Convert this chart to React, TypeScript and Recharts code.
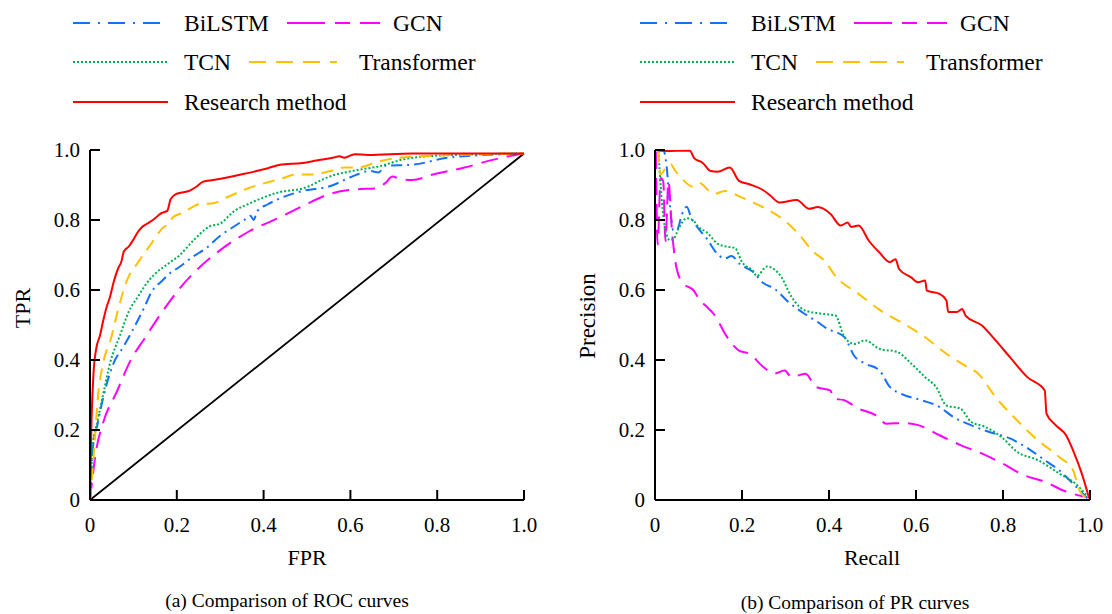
import { LineChart, Line, XAxis, YAxis } from 'recharts';

const FONT = '"Liberation Serif", "Times New Roman", serif';

const axisTicks = [0, 0.2, 0.4, 0.6, 0.8, 1.0];

type Pt = [number, number];

// ROC curves: [FPR, TPR]
const rocBiLSTM: Pt[] = [
  [0, 0], [0.006, 0.14], [0.018, 0.22], [0.03, 0.29], [0.054, 0.39], [0.078, 0.44], [0.096, 0.48],
  [0.125, 0.55], [0.142, 0.595], [0.165, 0.625], [0.184, 0.648], [0.205, 0.665], [0.237, 0.695],
  [0.268, 0.72], [0.3, 0.755], [0.33, 0.78], [0.355, 0.8], [0.37, 0.812], [0.377, 0.8], [0.385, 0.825],
  [0.41, 0.845], [0.438, 0.862], [0.49, 0.883], [0.554, 0.897], [0.6, 0.922], [0.645, 0.94],
  [0.665, 0.936], [0.68, 0.955], [0.743, 0.958], [0.824, 0.978], [1, 0.99],
];
const rocGCN: Pt[] = [
  [0, 0], [0.014, 0.14], [0.03, 0.22], [0.062, 0.31], [0.094, 0.4], [0.125, 0.46], [0.165, 0.535],
  [0.207, 0.605], [0.244, 0.655], [0.3, 0.714], [0.363, 0.765], [0.438, 0.808], [0.49, 0.84],
  [0.554, 0.875], [0.617, 0.888], [0.657, 0.89], [0.68, 0.905], [0.697, 0.924], [0.713, 0.918],
  [0.743, 0.914], [0.79, 0.93], [0.863, 0.95], [0.935, 0.974], [1, 0.99],
];
const rocTCN: Pt[] = [
  [0, 0], [0.006, 0.15], [0.018, 0.23], [0.03, 0.3], [0.046, 0.39], [0.069, 0.47], [0.09, 0.54],
  [0.11, 0.58], [0.131, 0.62], [0.149, 0.645], [0.18, 0.675], [0.207, 0.7], [0.237, 0.74],
  [0.276, 0.782], [0.3, 0.79], [0.332, 0.825], [0.369, 0.848], [0.438, 0.88], [0.49, 0.89],
  [0.554, 0.925], [0.617, 0.943], [0.665, 0.953], [0.729, 0.975], [0.824, 0.985], [1, 0.99],
];
const rocTransformer: Pt[] = [
  [0, 0], [0.01, 0.15], [0.018, 0.29], [0.03, 0.39], [0.048, 0.46], [0.066, 0.55], [0.086, 0.63],
  [0.11, 0.678], [0.14, 0.73], [0.17, 0.78], [0.184, 0.79], [0.19, 0.807], [0.213, 0.82],
  [0.252, 0.845], [0.284, 0.848], [0.316, 0.865], [0.363, 0.89], [0.438, 0.917], [0.475, 0.93],
  [0.514, 0.93], [0.554, 0.94], [0.586, 0.95], [0.617, 0.95], [0.665, 0.967], [0.713, 0.978],
  [0.824, 0.985], [1, 0.99],
];
const rocResearch: Pt[] = [
  [0, 0], [0.003, 0.2], [0.008, 0.36], [0.014, 0.43], [0.023, 0.47], [0.03, 0.51], [0.038, 0.55],
  [0.046, 0.58], [0.054, 0.62], [0.066, 0.665], [0.072, 0.68], [0.078, 0.71], [0.09, 0.725],
  [0.098, 0.74], [0.11, 0.765], [0.12, 0.78], [0.135, 0.792], [0.145, 0.8], [0.165, 0.82],
  [0.178, 0.826], [0.186, 0.86], [0.2, 0.875], [0.23, 0.884], [0.245, 0.895], [0.26, 0.909],
  [0.284, 0.914], [0.348, 0.93], [0.41, 0.948], [0.438, 0.958], [0.49, 0.963], [0.522, 0.97],
  [0.56, 0.978], [0.575, 0.982], [0.586, 0.978], [0.61, 0.988], [0.64, 0.986], [0.743, 0.99],
  [1, 0.99],
];
const rocRandom: Pt[] = [[0, 0], [1, 0.99]];

// PR curves: [Recall, Precision]
const prBiLSTM: Pt[] = [
  [0.005, 1.0], [0.019, 1.0], [0.027, 0.95], [0.033, 0.86], [0.042, 0.771], [0.05, 0.77],
  [0.062, 0.817], [0.073, 0.838], [0.083, 0.807], [0.103, 0.771], [0.12, 0.745], [0.142, 0.705],
  [0.16, 0.69], [0.176, 0.697], [0.195, 0.674], [0.225, 0.652], [0.249, 0.62], [0.273, 0.605],
  [0.31, 0.562], [0.34, 0.535], [0.372, 0.51], [0.395, 0.49], [0.435, 0.466], [0.459, 0.41],
  [0.483, 0.39], [0.516, 0.37], [0.54, 0.323], [0.565, 0.304], [0.613, 0.285], [0.654, 0.266],
  [0.686, 0.237], [0.718, 0.218], [0.767, 0.195], [0.816, 0.176], [0.864, 0.142], [0.896, 0.114],
  [0.929, 0.085], [0.961, 0.047], [0.994, 0.005],
];
const prGCN: Pt[] = [
  [0.002, 0.995], [0.006, 0.73], [0.013, 0.92], [0.019, 0.91], [0.024, 0.74], [0.031, 0.91],
  [0.039, 0.77], [0.05, 0.66], [0.065, 0.619], [0.088, 0.6], [0.104, 0.57], [0.119, 0.552],
  [0.136, 0.53], [0.165, 0.467], [0.193, 0.427], [0.217, 0.418], [0.249, 0.38], [0.273, 0.361],
  [0.298, 0.37], [0.314, 0.351], [0.346, 0.361], [0.37, 0.323], [0.403, 0.313], [0.411, 0.29],
  [0.435, 0.285], [0.468, 0.261], [0.508, 0.242], [0.532, 0.218], [0.573, 0.22], [0.605, 0.214],
  [0.654, 0.185], [0.702, 0.157], [0.751, 0.133], [0.799, 0.104], [0.848, 0.071], [0.896, 0.052],
  [0.945, 0.024], [0.985, 0.01],
];
const prTCN: Pt[] = [
  [0.008, 0.997], [0.015, 0.864], [0.024, 0.77], [0.034, 0.743], [0.042, 0.745], [0.056, 0.78],
  [0.073, 0.805], [0.087, 0.8], [0.1, 0.78], [0.119, 0.765], [0.144, 0.732], [0.165, 0.724],
  [0.184, 0.72], [0.2, 0.68], [0.225, 0.655], [0.234, 0.64], [0.257, 0.667], [0.29, 0.638],
  [0.314, 0.58], [0.346, 0.541], [0.379, 0.533], [0.415, 0.527], [0.435, 0.466], [0.459, 0.446],
  [0.483, 0.456], [0.516, 0.432], [0.557, 0.423], [0.589, 0.39], [0.621, 0.351], [0.646, 0.323],
  [0.67, 0.27], [0.702, 0.261], [0.727, 0.223], [0.759, 0.209], [0.8, 0.176], [0.832, 0.138],
  [0.88, 0.114], [0.929, 0.076], [0.97, 0.043], [0.994, 0.01],
];
const prTransformer: Pt[] = [
  [0.008, 1.0], [0.012, 0.93], [0.023, 0.945], [0.035, 0.96], [0.047, 0.94], [0.065, 0.914],
  [0.087, 0.895], [0.104, 0.905], [0.12, 0.888], [0.136, 0.874], [0.16, 0.883], [0.2, 0.864],
  [0.249, 0.836], [0.298, 0.798], [0.33, 0.76], [0.362, 0.712], [0.395, 0.676], [0.411, 0.646],
  [0.468, 0.589], [0.524, 0.537], [0.573, 0.503], [0.621, 0.465], [0.67, 0.418], [0.718, 0.38],
  [0.743, 0.361], [0.783, 0.294], [0.832, 0.228], [0.88, 0.171], [0.929, 0.123], [0.961, 0.085],
  [0.977, 0.024], [0.994, 0.005],
];
const prResearch: Pt[] = [
  [0.002, 1.0], [0.023, 0.997], [0.08, 0.998], [0.09, 0.977], [0.11, 0.963], [0.128, 0.94],
  [0.144, 0.938], [0.172, 0.95], [0.193, 0.912], [0.217, 0.902], [0.249, 0.885], [0.265, 0.87],
  [0.286, 0.85], [0.326, 0.857], [0.354, 0.832], [0.374, 0.837], [0.403, 0.818], [0.427, 0.784],
  [0.443, 0.793], [0.451, 0.78], [0.468, 0.784], [0.492, 0.74], [0.516, 0.707], [0.54, 0.68],
  [0.553, 0.688], [0.561, 0.66], [0.589, 0.636], [0.605, 0.622], [0.621, 0.627], [0.625, 0.598],
  [0.654, 0.589], [0.67, 0.57], [0.674, 0.537], [0.694, 0.537], [0.706, 0.546], [0.714, 0.527],
  [0.751, 0.499], [0.783, 0.456], [0.816, 0.408], [0.856, 0.351], [0.896, 0.313], [0.9, 0.247],
  [0.921, 0.214], [0.945, 0.185], [0.961, 0.142], [0.981, 0.076], [0.998, 0.005],
];

interface Series {
  name: string;
  color: string;
  dash?: string;
  legendDash?: string;
  roc: Pt[];
  pr: Pt[];
}

const series: Series[] = [
  { name: 'BiLSTM', color: '#1470ff', dash: '11 5 2 5', legendDash: '17 8 2 8', roc: rocBiLSTM, pr: prBiLSTM },
  { name: 'GCN', color: '#ff00ff', dash: '17 9', legendDash: '38 10 15 10 20 10', roc: rocGCN, pr: prGCN },
  { name: 'TCN', color: '#00b050', dash: '2 2', legendDash: '2 2', roc: rocTCN, pr: prTCN },
  { name: 'Transformer', color: '#ffc000', dash: '12 8', legendDash: '17 10', roc: rocTransformer, pr: prTransformer },
  { name: 'Research method', color: '#ff0000', roc: rocResearch, pr: prResearch },
];

const toRows = (pts: Pt[]) => pts.map(([x, y]) => ({ x, y }));
const fmt = (v: number) => (v === 0 ? '0' : v.toFixed(1));

function YTick(props: any) {
  const { x, y, payload } = props;
  return (
    <g>
      <line x1={x + 10} x2={x + 20} y1={y} y2={y} stroke="#000" strokeWidth={2} />
      <text x={x} y={y} dy="0.35em" textAnchor="end" fontFamily={FONT} fontSize={21} fill="#000">
        {fmt(payload.value)}
      </text>
    </g>
  );
}

function XTick(props: any) {
  const { x, y, payload } = props;
  return (
    <g>
      {payload.value > 0 && (
        <line x1={x} x2={x} y1={y - 10} y2={y - 20} stroke="#000" strokeWidth={2} />
      )}
      <text x={x} y={y + 22} textAnchor="middle" fontFamily={FONT} fontSize={21} fill="#000">
        {fmt(payload.value)}
      </text>
    </g>
  );
}

function Panel({ kind, left, width, marginRight }: { kind: 'roc' | 'pr'; left: number; width: number; marginRight: number }) {
  return (
    <div style={{ position: 'absolute', left, top: 0 }}>
      <LineChart width={width} height={614} margin={{ top: 150, right: marginRight, bottom: 113, left: 89 }}>
        <XAxis
          type="number"
          dataKey="x"
          domain={[0, 1]}
          ticks={axisTicks}
          height={1}
          tickSize={0}
          tickMargin={10}
          tick={<XTick />}
          axisLine={{ stroke: '#000', strokeWidth: 2 }}
          tickLine={false}
          interval={0}
        />
        <YAxis
          type="number"
          dataKey="y"
          domain={[0, 1]}
          ticks={axisTicks}
          width={1}
          tickSize={0}
          tickMargin={10}
          tick={<YTick />}
          axisLine={{ stroke: '#000', strokeWidth: 2 }}
          tickLine={false}
          interval={0}
        />
        {kind === 'roc' && (
          <Line
            data={toRows(rocRandom)}
            dataKey="y"
            stroke="#000"
            strokeWidth={1.8}
            dot={false}
            activeDot={false}
            isAnimationActive={false}
          />
        )}
        {series.map((s) => (
          <Line
            key={s.name}
            data={toRows(kind === 'roc' ? s.roc : s.pr)}
            dataKey="y"
            type="monotone"
            stroke={s.color}
            strokeWidth={2}
            strokeDasharray={s.dash}
            dot={false}
            activeDot={false}
            isAnimationActive={false}
          />
        ))}
      </LineChart>
    </div>
  );
}

// legend slots: [line x1, line x2, row y, text x]
const legendSlots: [number, number, number, number][] = [
  [73, 168, 23, 184],
  [287, 380, 23, 393],
  [73, 168, 62, 184],
  [249, 337, 62, 359],
  [73, 168, 102, 184],
];

function Overlay() {
  return (
    <svg width={1112} height={614} style={{ position: 'absolute', left: 0, top: 0, pointerEvents: 'none' }}>
      {[0, 567].map((dx) =>
        series.map((s, i) => {
          const [x1, x2, y, tx] = legendSlots[i];
          return (
            <g key={`${dx}-${s.name}`}>
              <line x1={x1 + dx} x2={x2 + dx} y1={y} y2={y} stroke={s.color} strokeWidth={2} strokeDasharray={s.legendDash} />
              <text x={tx + dx} y={y + 8} fontFamily={FONT} fontSize={23.5} fill="#000">
                {s.name}
              </text>
            </g>
          );
        })
      )}
      <g fontFamily={FONT} fill="#000">
        <text x={307} y={565} fontSize={22} textAnchor="middle">FPR</text>
        <text x={872} y={565} fontSize={22} textAnchor="middle">Recall</text>
        <text x={30} y={308} fontSize={22} textAnchor="middle" transform="rotate(-90 30 308)">TPR</text>
        <text x={595} y={316} fontSize={23} textAnchor="middle" transform="rotate(-90 595 316)">Precision</text>
        <text x={287} y={607} fontSize={19.5} textAnchor="middle">(a) Comparison of ROC curves</text>
        <text x={855} y={609} fontSize={19.5} textAnchor="middle">(b) Comparison of PR curves</text>
      </g>
    </svg>
  );
}

export default function App() {
  return (
    <div style={{ position: 'absolute', left: 0, top: 0, width: 1112, height: 614, background: '#fff', overflow: 'hidden' }}>
      <Panel kind="roc" left={0} width={560} marginRight={36} />
      <Panel kind="pr" left={565} width={547} marginRight={22} />
      <Overlay />
    </div>
  );
}
